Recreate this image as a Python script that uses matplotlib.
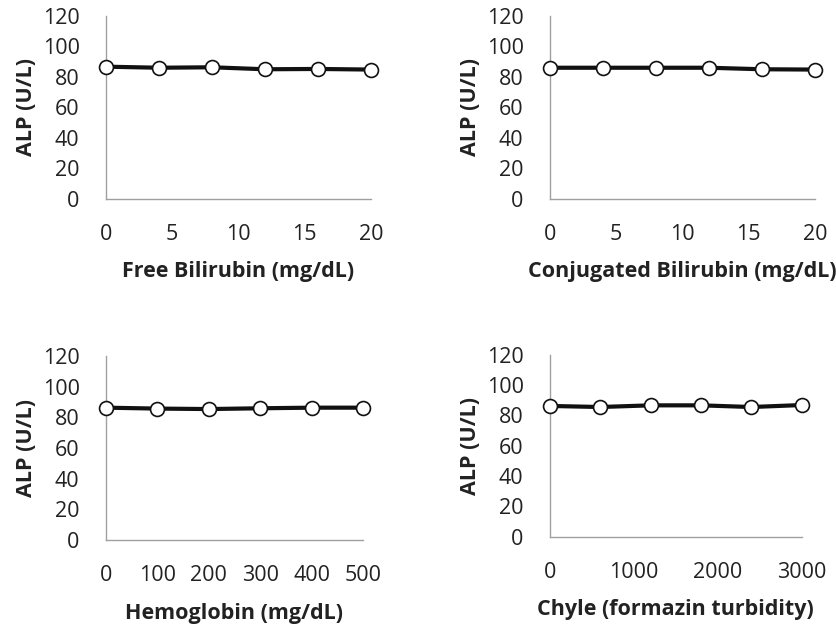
import matplotlib.pyplot as plt

plt.rcParams['font.family'] = ['Open Sans', 'DejaVu Sans']

# interferent concentrations and measured ALP
free_bili_x = [0, 4, 8, 12, 16, 20]
free_bili_alp = [86.7, 86.0, 86.3, 85.0, 85.2, 84.8]

conj_bili_x = [0, 4, 8, 12, 16, 20]
conj_bili_alp = [86.0, 86.0, 86.0, 86.0, 85.0, 84.8]

hemo_x = [0, 100, 200, 300, 400, 500]
hemo_alp = [86.3, 85.7, 85.4, 85.9, 86.3, 86.3]

chyle_x = [0, 600, 1200, 1800, 2400, 3000]
chyle_alp = [86.2, 85.5, 86.6, 86.6, 85.5, 86.8]

panels = [
    (free_bili_x, free_bili_alp, "Free Bilirubin (mg/dL)", [0, 5, 10, 15, 20], 20,
     [0.1266, 0.6816, 0.3166, 0.2928]),
    (conj_bili_x, conj_bili_alp, "Conjugated Bilirubin (mg/dL)", [0, 5, 10, 15, 20], 20,
     [0.6571, 0.6816, 0.3166, 0.2928]),
    (hemo_x, hemo_alp, "Hemoglobin (mg/dL)", [0, 100, 200, 300, 400, 500], 500,
     [0.1266, 0.1346, 0.3070, 0.2949]),
    (chyle_x, chyle_alp, "Chyle (formazin turbidity)", [0, 1000, 2000, 3000], 3000,
     [0.6571, 0.1399, 0.3007, 0.2917]),
]

fig = plt.figure(figsize=(8.37, 6.24), dpi=100)

for x, y, xlab, xt, xmax, pos in panels:
    ax = fig.add_axes(pos)
    ax.plot(x, y, color='#111111', lw=3, marker='o', ms=10,
            mfc='white', mec='#111111', mew=1.2, clip_on=False, zorder=3)
    ax.set_xlim(0, xmax)
    ax.set_ylim(0, 120)
    ax.set_xticks(xt)
    ax.set_yticks(range(0, 121, 20))
    ax.tick_params(length=0, labelsize=15.5, colors='#222222')
    ax.tick_params(axis='y', pad=19)
    ax.tick_params(axis='x', pad=18)
    for s in ['top', 'right']:
        ax.spines[s].set_visible(False)
    for s in ['left', 'bottom']:
        ax.spines[s].set_color('#a0a0a0')
        ax.spines[s].set_linewidth(1.0)
    ax.set_xlabel(xlab, fontsize=15.5, fontweight='bold', color='#222222', labelpad=12)
    ax.set_ylabel("ALP (U/L)", fontsize=15.5, fontweight='bold', color='#222222', labelpad=4)

plt.savefig("out.png", dpi=100)
